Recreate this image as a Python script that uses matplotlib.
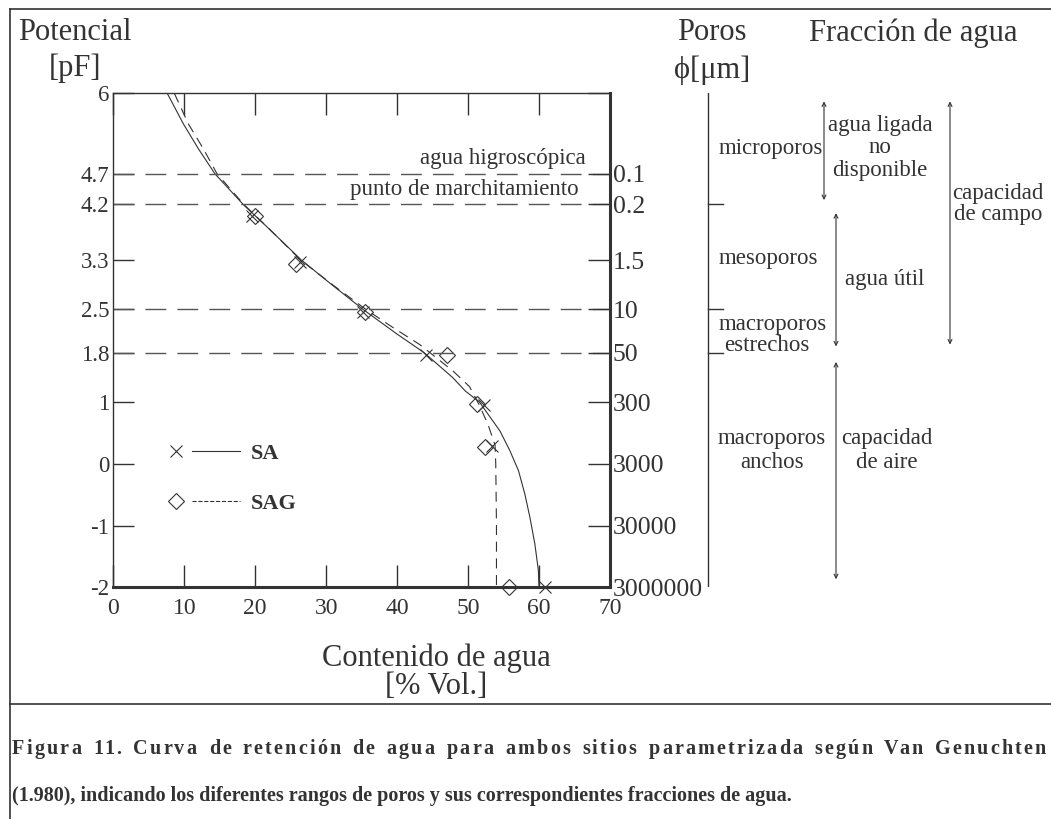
import matplotlib
matplotlib.use('Agg')
import matplotlib.pyplot as plt
from matplotlib.lines import Line2D
from matplotlib.legend_handler import HandlerBase
from matplotlib.font_manager import FontProperties

plt.rcParams['font.family'] = ['Liberation Serif', 'DejaVu Serif']

# ---- data ----
pf_ticks = [6, 4.7, 4.2, 3.3, 2.5, 1.8, 1, 0, -1, -2]
pf_labels = ['6', '4.7', '4.2', '3.3', '2.5', '1.8', '1', '0', '-1', '-2']
pore_labels = ['', '0.1', '0.2', '1.5', '10', '50', '300', '3000', '30000', '3000000']
x_ticks = [0, 10, 20, 30, 40, 50, 60, 70]
dashed_levels = [4.7, 4.2, 2.5, 1.8]
dashed_names = ['agua higroscópica', 'punto de marchitamiento', '', '']
dashed_name_x = [66.6, 65.6, 0, 0]

# measured points
sa_x = [19.5, 26.3, 35.2, 44.1, 52.2, 53.4, 60.8]
sa_pf = [4.02, 3.27, 2.46, 1.77, 0.95, 0.29, -2.0]
sag_x = [20.0, 25.8, 35.5, 47.0, 51.2, 52.4, 55.7]
sag_pf = [4.02, 3.24, 2.46, 1.76, 0.97, 0.27, -2.0]

# fitted curves (Van Genuchten)
sa_curve_pf = [6.0, 5.5, 5.1, 4.7, 4.2, 3.8, 3.3, 2.9, 2.5, 2.1, 1.8, 1.4, 1.18,
               1.0, 0.53, 0.21, -0.11, -0.49, -0.86, -1.29, -1.72, -2.0]
sa_curve_x = [7.6, 9.9, 12.0, 14.3, 18.3, 22.0, 26.5, 30.8, 35.2, 40.0, 43.8, 47.8, 49.6,
              51.6, 54.5, 55.9, 57.1, 58.0, 58.7, 59.4, 59.9, 60.0]
sag_curve_pf = [6.0, 5.5, 5.1, 4.7, 4.2, 3.8, 3.3, 2.9, 2.5, 2.2, 1.93, 1.5, 1.25,
                0.97, 0.64, 0.3, 0.0, -1.0, -2.0]
sag_curve_x = [8.6, 10.6, 12.7, 14.6, 18.4, 22.0, 26.4, 30.9, 35.6, 39.5, 43.2, 47.9, 50.2,
               51.5, 52.8, 53.8, 53.9, 54.0, 54.0]

# pore classes (pF limits) and water fractions (pF ranges of arrows)
pore_limits = [4.2, 2.5, 1.8]
pore_names = ['microporos', 'mesoporos', 'macroporos', 'estrechos']
pore_name_pf = [5.1, 3.32, 2.26, 1.91]
fraction_top = [5.87, 4.06, 5.87, 1.65]
fraction_bot = [4.27, 1.9, 1.93, -1.87]

caption1 = 'Figura 11. Curva de retención de agua para ambos sitios parametrizada según Van Genuchten'
caption2 = '(1.980), indicando los diferentes rangos de poros y sus correspondientes fracciones de agua.'

ink = '#333333'

fig = plt.figure(figsize=(10.51, 8.19), dpi=100)
ax = fig.add_axes([113.3 / 1051, 1 - 587.3 / 819, 496.7 / 1051, 494 / 819])

ax.plot(sa_curve_x, sa_curve_pf, color=ink, lw=0.8)
ax.plot(sag_curve_x, sag_curve_pf, color=ink, lw=0.8, ls=(0, (9, 6)))
ax.plot(sa_x, sa_pf, ls='none', marker='x', ms=9, mew=0.8, color=ink, clip_on=False)
ax.plot(sag_x, sag_pf, ls='none', marker='D', ms=8, mew=0.8, mfc='none', mec=ink, clip_on=False)

for lev, name, nx in zip(dashed_levels, dashed_names, dashed_name_x):
    ax.axhline(lev, color='#555555', lw=1, ls=(0, (15, 8)))
    if name:
        ax.text(nx, lev + 0.08, name, ha='right', va='bottom', fontsize=16.5, color=ink)

ax.set_xlim(0, 70)
ax.set_ylim(-2, 6)
ax.set_xticks(x_ticks)
ax.set_xticklabels([str(v) for v in x_ticks])
ax.set_yticks(pf_ticks)
ax.set_yticklabels(pf_labels)
ax.tick_params(axis='x', direction='in', length=16, width=1, top=True, pad=8,
               labelsize=17, colors=ink)
ax.tick_params(axis='y', direction='in', length=15, width=1, pad=3,
               labelsize=16.5, colors=ink)
for side in ['left', 'top']:
    ax.spines[side].set_linewidth(1)
    ax.spines[side].set_color(ink)
for side in ['right', 'bottom']:
    ax.spines[side].set_linewidth(2.2)
    ax.spines[side].set_color(ink)

axr = ax.twinx()
axr.set_ylim(-2, 6)
axr.set_yticks(pf_ticks)
axr.set_yticklabels(pore_labels)
axr.tick_params(axis='y', direction='in', length=16, width=1, pad=2,
                labelsize=18.5, colors=ink)
for s in axr.spines.values():
    s.set_visible(False)


# legend: marker on the left, line on the right
class MarkerThenLine(HandlerBase):
    def create_artists(self, legend, orig_handle, xdescent, ydescent, width, height,
                       fontsize, trans):
        y = height / 2 - ydescent
        m = Line2D([0.1 * width - xdescent], [y], ls='none', marker=orig_handle.get_marker(),
                   ms=orig_handle.get_markersize(), mew=0.8, mfc='none', mec=ink)
        l = Line2D([0.33 * width - xdescent, width - xdescent], [y, y],
                   ls=orig_handle.get_linestyle(), lw=0.8, color=ink)
        m.set_transform(trans)
        l.set_transform(trans)
        return [m, l]


h_sa = Line2D([], [], marker='x', ms=9, ls='-', color=ink)
h_sag = Line2D([], [], marker='D', ms=8, ls=(0, (8, 5)), color=ink)
leg = ax.legend([h_sa, h_sag], ['SA', 'SAG'], handler_map={Line2D: MarkerThenLine()},
                loc='center left', bbox_to_anchor=(0.112, 0.22), frameon=False,
                prop={'size': 16, 'weight': 'bold'}, handlelength=3.2, handletextpad=0.5,
                labelspacing=1.35, borderpad=0, borderaxespad=0)
for t in leg.get_texts():
    t.set_color(ink)

# right panel: pores and water fractions, same pF scale
axp = fig.add_axes([660 / 1051, 1 - 587.3 / 819, 391 / 1051, 494 / 819])
axp.set_xlim(660, 1051)
axp.set_ylim(-2, 6)
axp.axis('off')
axp.plot([708, 708], [6, -2], color=ink, lw=1)
for lim in pore_limits:
    axp.plot([708, 723], [lim, lim], color=ink, lw=1)
for name, p in zip(pore_names, pore_name_pf):
    axp.text(719 if name != 'estrechos' else 724, p, name, ha='left', va='center',
             fontsize=16.5, color=ink)
axp.text(772, 0.22, 'macroporos\nanchos', ha='center', va='center', fontsize=16.5,
         color=ink, linespacing=1.2)

fraction_x = [824, 836, 950, 836]
for fx, top, bot in zip(fraction_x, fraction_top, fraction_bot):
    axp.annotate('', xy=(fx, top), xytext=(fx, bot),
                 arrowprops=dict(arrowstyle='<->', lw=0.8, color=ink, mutation_scale=7,
                                 shrinkA=0, shrinkB=0))
axp.text(880, 5.12, 'agua ligada\nno\ndisponible', ha='center', va='center', fontsize=16.5,
         color=ink, linespacing=1.1)
axp.text(885, 2.98, 'agua útil', ha='center', va='center', fontsize=16.5, color=ink)
axp.text(998, 4.2, 'capacidad\nde campo', ha='center', va='center', fontsize=16.5,
         color=ink, linespacing=1.0, clip_on=False)
axp.text(887, 0.22, 'capacidad\nde aire', ha='center', va='center', fontsize=16.5,
         color=ink, linespacing=1.2)

# headers
fig.text(75 / 1051, 1 - 33 / 819, 'Potencial', ha='center', va='center', fontsize=22, color=ink)
fig.text(75 / 1051, 1 - 68 / 819, '[pF]', ha='center', va='center', fontsize=22, color=ink)
fig.text(712 / 1051, 1 - 33 / 819, 'Poros', ha='center', va='center', fontsize=22, color=ink)
fig.text(712 / 1051, 1 - 70 / 819, '\u03d5[\u03bcm]', ha='center', va='center', fontsize=22,
         color=ink)
fig.text(913 / 1051, 1 - 33 / 819, 'Fracción de agua', ha='center', va='center', fontsize=22,
         color=ink)
fig.text(436 / 1051, 1 - 658 / 819, 'Contenido de agua', ha='center', va='center',
         fontsize=22, color=ink)
fig.text(436 / 1051, 1 - 687 / 819, '[% Vol.]', ha='center', va='center', fontsize=22,
         color=ink)

# caption: first line is justified across the full width
# (part of the extra room goes to word gaps, the rest to letter spacing)
renderer = fig.canvas.get_renderer()
cap_fp = FontProperties(family=['Liberation Serif'], size=14.5, weight='bold')


def text_w(s):
    return renderer.get_text_width_height_descent(s, cap_fp, ismath=False)[0]


words = caption1.split(' ')
gap_w = text_w('a a') - text_w('aa')
word_w = [text_w(w) for w in words]
extra_total = (1046 - 12) - sum(word_w) - gap_w * (len(words) - 1)
n_letter_gaps = sum(len(w) - 1 for w in words)
letter_extra = 0.6 * extra_total / n_letter_gaps
word_extra = 0.4 * extra_total / (len(words) - 1)
xpos = 12
for w, ww in zip(words, word_w):
    for k, ch in enumerate(w):
        left = text_w(w[:k + 1]) - text_w(ch)
        fig.text((xpos + left + k * letter_extra) / 1051, 1 - 754 / 819, ch, ha='left',
                 va='baseline', fontproperties=cap_fp, color=ink)
    xpos += ww + (len(w) - 1) * letter_extra + gap_w + word_extra
fig.text(12 / 1051, 1 - 796 / 819, caption2, ha='left', va='center', fontproperties=cap_fp,
         color=ink)

fig.add_artist(Line2D([10 / 1051, 1], [1 - 9 / 819, 1 - 9 / 819], color=ink, lw=1.2))
fig.add_artist(Line2D([10 / 1051, 10 / 1051], [0, 1 - 9 / 819], color=ink, lw=1.2))
fig.add_artist(Line2D([10 / 1051, 1], [1 - 704 / 819, 1 - 704 / 819], color=ink, lw=1.2))

fig.savefig('out.png', dpi=100)
